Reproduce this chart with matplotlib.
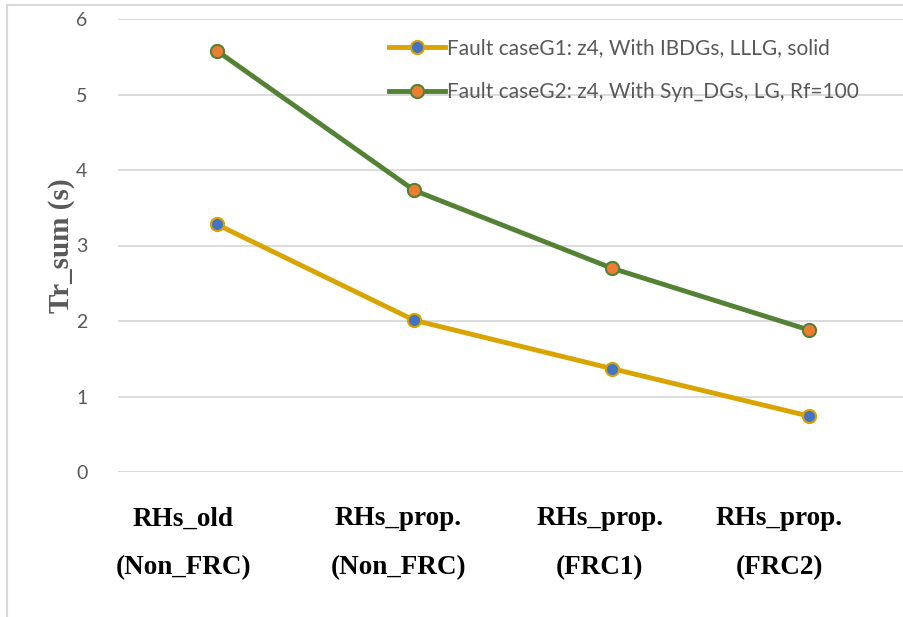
import matplotlib
matplotlib.use("Agg")
import matplotlib.pyplot as plt
from matplotlib.patches import Rectangle

# data
categories = ["RHs_old\n(Non_FRC)", "RHs_prop.\n(Non_FRC)", "RHs_prop.\n(FRC1)", "RHs_prop.\n(FRC2)"]
label_top = ["RHs_old", "RHs_prop.", "RHs_prop.", "RHs_prop."]
label_bottom = ["(Non_FRC)", "(Non_FRC)", "(FRC1)", "(FRC2)"]
label_x = [-0.17, 0.92, 1.94, 2.85]
g1_values = [3.28, 2.01, 1.37, 0.74]
g2_values = [5.58, 3.73, 2.70, 1.88]
g1_name = "Fault caseG1: z4, With IBDGs, LLLG, solid"
g2_name = "Fault caseG2: z4, With Syn_DGs, LG, Rf=100"
y_ticks = [0, 1, 2, 3, 4, 5, 6]

W, H = 904, 617
fig = plt.figure(figsize=(W / 100, H / 100), dpi=100)

# chart-area border (only left and top show in the crop)
fig.patches.append(Rectangle((7 / W, -0.05), 1.2, (H - 5) / H + 0.05,
                             transform=fig.transFigure, fill=False,
                             edgecolor="#d9d9d9", linewidth=1.5))

x0, x1 = 118, 908
ytop, ybot = 19, 472
ax = fig.add_axes([x0 / W, 1 - ybot / H, (x1 - x0) / W, (ybot - ytop) / H])

xs = list(range(len(categories)))
ax.plot(xs, g1_values, color="#d9a400", linewidth=3.5, marker="o",
        markersize=9.5, markerfacecolor="#4472c4", markeredgecolor="#d9a400",
        markeredgewidth=1.5, label=g1_name, zorder=3)
ax.plot(xs, g2_values, color="#548235", linewidth=3.5, marker="o",
        markersize=9.5, markerfacecolor="#ed7d31", markeredgecolor="#548235",
        markeredgewidth=1.5, label=g2_name, zorder=3)

ax.set_xlim(-0.5, 3.5)
ax.set_ylim(0, 6)
ax.set_yticks(y_ticks)
ax.set_yticklabels([str(v) for v in y_ticks], fontfamily="Lato",
                   fontsize=14, color="#595959")
ax.tick_params(axis="y", length=0, pad=22)
ax.set_xticks([])
ax.grid(axis="y", color="#d9d9d9", linewidth=1.3)
ax.set_axisbelow(True)
for s in ax.spines.values():
    s.set_visible(False)

for x, t, b in zip(label_x, label_top, label_bottom):
    ax.text(x, -0.62, t, ha="center", va="center", fontfamily="Liberation Serif",
            fontweight="bold", fontsize=19.5, color="black")
    ax.text(x, -1.26, b, ha="center", va="center", fontfamily="Liberation Serif",
            fontweight="bold", fontsize=19.5, color="black")

fig.text(62 / W, 1 - 246 / H, "Tr_sum (s)", rotation=90, ha="center", va="center",
         fontfamily="Liberation Serif", fontweight="bold", fontsize=21,
         color="#595959")

leg = ax.legend(loc="upper left", bbox_to_anchor=((381 - x0) / (x1 - x0), 0.976),
                frameon=False, prop={"family": "Lato", "size": 15},
                handlelength=2.65, handletextpad=0.12, labelspacing=1.15,
                borderaxespad=0)
for t in leg.get_texts():
    t.set_color("#595959")

fig.savefig("out.png", dpi=100)
